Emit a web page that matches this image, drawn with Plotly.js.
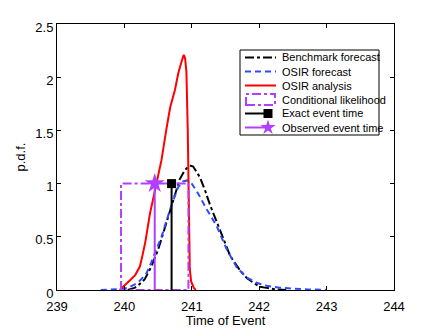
<!DOCTYPE html>
<html><head><meta charset="utf-8">
<script src="https://cdn.plot.ly/plotly-3.0.1.min.js"></script>
<style>html,body{margin:0;padding:0;background:#fff}#plot{width:436px;height:328px}</style>
</head><body><div id="plot"></div>
<script>
// Benchmark forecast
var benchX = [240.05,240.15,240.2,240.3,240.4,240.5,240.55,240.62,240.68,240.75,240.82,240.9,240.97,241.02,241.12,241.2,241.27,241.42,241.52,241.57,241.72,241.82,241.91,242.01,242.11,242.26,242.4];
var benchY = [0,0.02,0.04,0.1,0.22,0.38,0.48,0.63,0.76,0.9,1.04,1.13,1.17,1.16,1.06,0.93,0.8,0.56,0.4,0.32,0.18,0.11,0.07,0.03,0.02,0.005,0];
// OSIR forecast
var fcX = [239.65,239.8,239.95,240.05,240.12,240.18,240.25,240.33,240.4,240.48,240.55,240.6,240.7,240.8,240.87,240.93,241.0,241.1,241.22,241.37,241.52,241.67,241.81,241.95,242.11,242.3,242.46,242.7,243.0];
var fcY = [0,0.003,0.01,0.02,0.04,0.06,0.1,0.16,0.26,0.38,0.5,0.6,0.8,0.97,1.02,1.03,1.0,0.9,0.76,0.6,0.38,0.21,0.12,0.07,0.04,0.022,0.015,0.006,0.002];
// OSIR analysis
var anX = [239.93,239.96,240.08,240.16,240.23,240.27,240.31,240.38,240.48,240.55,240.62,240.66,240.68,240.75,240.8,240.85,240.88,240.9,240.92,240.94,240.95,240.96,240.97,240.99,241.03,241.06];
var anY = [0,0.02,0.09,0.14,0.22,0.33,0.45,0.72,1.0,1.22,1.5,1.66,1.72,1.88,2.04,2.15,2.21,2.18,2.05,1.5,1.0,0.5,0.2,0.08,0.02,0];
// Conditional likelihood
var likX = [239.95,239.95,240.95,240.95,239.95];
var likY = [0,1,1,0,0];
// Exact / observed event times
var exactT = 240.7, exactP = 1;
var obsT = 240.45, obsP = 1;
// Legend labels
var legendLabels = ['Benchmark forecast','OSIR forecast','OSIR analysis','Conditional likelihood','Exact event time','Observed event time'];

var purple = '#B23FFF', blue = '#2D4BFF', red = '#FF0000';
var traces = [
  {x: benchX, y: benchY, mode:'lines', line:{color:'#000', width:2, dash:'dashdot'}},
  {x: fcX, y: fcY, mode:'lines', line:{color:blue, width:2, dash:'6px,4px'}},
  {x: anX, y: anY, mode:'lines', line:{color:red, width:2}},
  {x: likX, y: likY, mode:'lines', line:{color:purple, width:2, dash:'dashdot'}},
  {x: [exactT, exactT], y: [0, exactP], mode:'lines', line:{color:'#000', width:2}},
  {x: [exactT], y: [exactP], mode:'markers', marker:{symbol:'square', size:9, color:'#000'}},
  {x: [obsT, obsT], y: [0, obsP], mode:'lines', line:{color:purple, width:2}},
  {x: [obsT], y: [obsP], mode:'markers', marker:{symbol:'star', size:15, color:purple, line:{width:0}}}
];

// pixel -> paper helpers for the hand-built legend box
var L = 57, R = 394, T = 24, B = 290;
function px(x){ return (x - L) / (R - L); }
function py(y){ return (B - y) / (B - T); }
var rowY = [57.5, 71.5, 85.5, 99.5, 113.5, 127.5];
var shapes = [
  {type:'rect', xref:'paper', yref:'paper', x0:px(240), x1:px(379), y0:py(135), y1:py(50), line:{color:'#000', width:1}, fillcolor:'#fff', layer:'above'},
  {type:'line', xref:'paper', yref:'paper', x0:px(245), x1:px(276), y0:py(rowY[0]), y1:py(rowY[0]), line:{color:'#000', width:2, dash:'dashdot'}, layer:'above'},
  {type:'line', xref:'paper', yref:'paper', x0:px(245), x1:px(276), y0:py(rowY[1]), y1:py(rowY[1]), line:{color:blue, width:2, dash:'6px,4px'}, layer:'above'},
  {type:'line', xref:'paper', yref:'paper', x0:px(245), x1:px(276), y0:py(rowY[2]), y1:py(rowY[2]), line:{color:red, width:2}, layer:'above'},
  {type:'rect', xref:'paper', yref:'paper', x0:px(246), x1:px(275), y0:py(rowY[3]+5.5), y1:py(rowY[3]-5.5), line:{color:purple, width:2, dash:'dashdot'}, fillcolor:'rgba(0,0,0,0)', layer:'above'},
  {type:'line', xref:'paper', yref:'paper', x0:px(245), x1:px(268), y0:py(rowY[4]), y1:py(rowY[4]), line:{color:'#000', width:2}, layer:'above'},
  {type:'rect', xref:'paper', yref:'paper', x0:px(263.5), x1:px(272.5), y0:py(rowY[4]+4.5), y1:py(rowY[4]-4.5), line:{color:'#000', width:0}, fillcolor:'#000', layer:'above'},
  {type:'line', xref:'paper', yref:'paper', x0:px(245), x1:px(268), y0:py(rowY[5]), y1:py(rowY[5]), line:{color:purple, width:2}, layer:'above'}
];
// star marker for legend (pixel-sized path anchored in paper coords)
(function(){
  var pts = [], ro = 8, ri = 3;
  for (var k = 0; k < 10; k++) {
    var a = Math.PI/2 + k*Math.PI/5, r = (k % 2 === 0) ? ro : ri;
    pts.push((r*Math.cos(a)).toFixed(2) + ',' + (r*Math.sin(a)).toFixed(2));
  }
  shapes.push({type:'path', xref:'paper', yref:'paper', xsizemode:'pixel', ysizemode:'pixel', xanchor:px(268), yanchor:py(rowY[5]), path:'M' + pts.join(' L') + ' Z', fillcolor:purple, line:{color:purple, width:0}, layer:'above'});
})();
var annotations = legendLabels.map(function(t, i){
  return {text:t, xref:'paper', yref:'paper', x:px(280), y:py(rowY[i]), xanchor:'left', yanchor:'middle', showarrow:false, font:{family:'Liberation Sans, Arial, sans-serif', size:11, color:'#000'}};
});

var font = {family:'Liberation Sans, Arial, sans-serif', size:13, color:'#000'};
var layout = {
  width:436, height:328,
  margin:{l:L, r:436-R, t:T, b:328-B},
  paper_bgcolor:'#fff', plot_bgcolor:'#fff',
  font: font,
  showlegend:false,
  shapes: shapes,
  annotations: annotations,
  xaxis:{range:[239,244], tickvals:[239,240,241,242,243,244], ticks:'inside', ticklen:4, tickcolor:'#000', showline:true, linecolor:'#000', linewidth:1, mirror:'ticks', showgrid:false, zeroline:false, ticklabelstandoff:4, title:{text:'Time of Event', font:font, standoff:2}, tickfont:font},
  yaxis:{range:[0,2.5], tickvals:[0,0.5,1,1.5,2,2.5], ticktext:['0','0.5','1','1.5','2','2.5'], ticks:'inside', ticklen:4, tickcolor:'#000', showline:true, linecolor:'#000', linewidth:1, mirror:'ticks', showgrid:false, zeroline:false, ticklabelshift:3, title:{text:'p.d.f.', font:font, standoff:6}, tickfont:font}
};
Plotly.newPlot('plot', traces, layout, {displayModeBar:false, staticPlot:true});
</script>
</body></html>
